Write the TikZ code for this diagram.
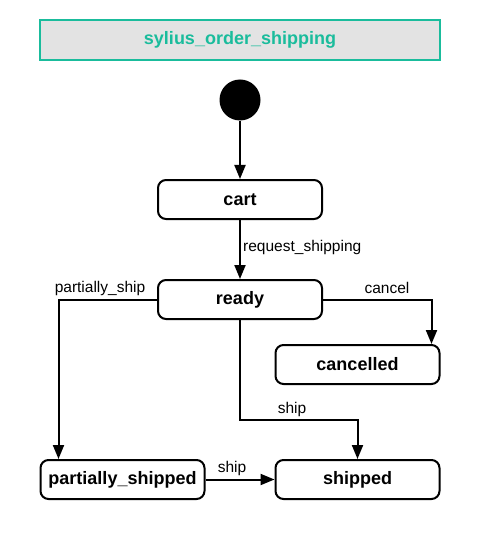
\documentclass[tikz,border=0pt]{standalone}
\usepackage{fontspec}
\setmainfont{Liberation Sans}
\usetikzlibrary{arrows.meta}
\definecolor{teal}{RGB}{26,188,156}
\definecolor{titlegray}{RGB}{227,227,227}
\tikzset{
  state/.style={draw, line width=2pt, rounded corners=8pt, minimum width=164pt,
    minimum height=39pt, inner sep=0pt, font=\fontsize{18}{20}\selectfont\bfseries},
  trans/.style={line width=2pt, -{Triangle[length=14pt,width=11pt]}},
  lbl/.style={font=\fontsize{15.5}{18}\selectfont, inner sep=1pt}
}
\begin{document}
\begin{tikzpicture}[x=1pt,y=-1pt]
            \useasboundingbox (0,0) rectangle (485,540);
            \node[draw=teal, fill=titlegray, line width=2pt, minimum width=400pt, minimum height=40pt,
              text=teal, font=\fontsize{18}{20}\selectfont\bfseries] (title) at (240,40) {sylius\_order\_shipping};
            \node[circle, fill=black, minimum size=41pt, inner sep=0pt] (start) at (240,100) {};
            \node[state] (cart) at (240,199.5) {cart};
            \node[state] (ready) at (240,299.5) {ready};
            \node[state] (cancelled) at (357.5,364.5) {cancelled};
            \node[state] (partial) at (122.5,479.5) {partially\_shipped};
            \node[state] (shipped) at (357.5,479.5) {shipped};
            \coordinate (bend) at (240,420);
            \draw[trans] (start) -- (cart);
            \draw[trans] (cart) -- (ready);
            \draw[trans] (ready.west) -| ([xshift=19pt]partial.north west);
            \draw[trans] (ready.east) -| ([xshift=-9pt]cancelled.north east);
            \draw[trans] (ready.south) -- (bend) -| (shipped.north);
            \draw[trans] (partial) -- (shipped);
            \node[lbl, anchor=west] at (242,247) {request\_shipping};
            \node[lbl] at (100,288) {partially\_ship};
            \node[lbl] at (387,288) {cancel};
            \node[lbl] at (292,409) {ship};
            \node[lbl] at (232,468) {ship};
        \end{tikzpicture}
\end{document}
